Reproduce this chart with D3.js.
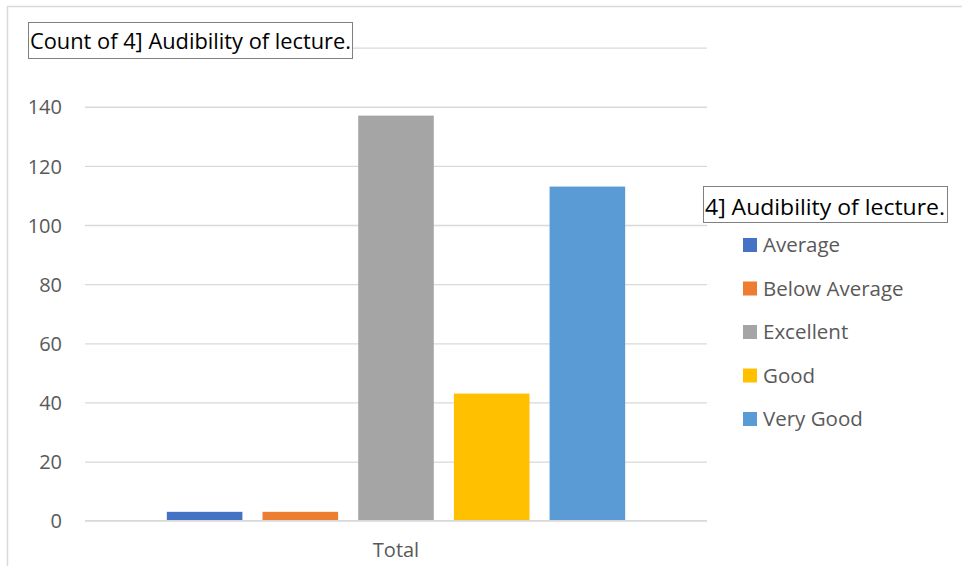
<!DOCTYPE html>
<html>
<head>
<meta charset="utf-8">
<script src="https://cdn.jsdelivr.net/npm/d3@7/dist/d3.min.js"></script>
<style>
  html, body { margin: 0; padding: 0; background: #fff; }
  svg { display: block; font-family: "Open Sans", sans-serif; }
</style>
</head>
<body>
<svg id="chart" width="962" height="566"></svg>
<script>
const categories = ["Total"];
const seriesNames = ["Average", "Below Average", "Excellent", "Good", "Very Good"];
const seriesValues = [3, 3, 137, 43, 113];
const seriesColors = ["#4472C4", "#ED7D31", "#A5A5A5", "#FFC000", "#5B9BD5"];
const yTicks = [0, 20, 40, 60, 80, 100, 120, 140, 160];
const chartTitle = "Count of 4] Audibility of lecture.";
const legendTitle = "4] Audibility of lecture.";

const svg = d3.select("#chart");

// outer chart border
svg.append("rect")
  .attr("x", 7.5).attr("y", 6.5)
  .attr("width", 1000).attr("height", 600)
  .attr("fill", "none").attr("stroke", "#d9d9d9").attr("stroke-width", 1.5);

const plot = { left: 85, right: 707, top: 47.6, bottom: 520.7 };

const y = d3.scaleLinear().domain([0, 160]).range([plot.bottom, plot.top]);
const x0 = d3.scaleBand().domain(categories).range([plot.left, plot.right])
  .paddingInner(0).paddingOuter(0.15);
const x1 = d3.scaleBand().domain(seriesNames).range([0, x0.bandwidth()])
  .paddingInner(0.21).paddingOuter(0.105);
const color = d3.scaleOrdinal().domain(seriesNames).range(seriesColors);

// gridlines (the top tick label sits hidden behind the title box, as in the reference)
const yAxis = d3.axisLeft(y).tickValues(yTicks).tickSize(-(plot.right - plot.left)).tickPadding(23)
  .tickFormat(d => d === 160 ? "" : d3.format("d")(d));
const gy = svg.append("g").attr("transform", `translate(${plot.left},0)`).call(yAxis);
gy.select(".domain").remove();
gy.selectAll(".tick line").attr("stroke", "#d9d9d9").attr("stroke-width", 1.3);
gy.selectAll(".tick text").attr("fill", "#595959").attr("font-size", 20)
  .attr("font-family", "'Open Sans', sans-serif").attr("dy", "0.36em");

// bars
const data = seriesNames.map((s, i) => ({ cat: categories[0], series: s, value: seriesValues[i] }));
svg.append("g").selectAll("rect").data(data).join("rect")
  .attr("x", d => x0(d.cat) + x1(d.series))
  .attr("width", x1.bandwidth())
  .attr("y", d => y(d.value))
  .attr("height", d => y(0) - y(d.value))
  .attr("fill", d => color(d.series));

// zero line on top
svg.append("line")
  .attr("x1", plot.left).attr("x2", plot.right)
  .attr("y1", y(0)).attr("y2", y(0))
  .attr("stroke", "#d9d9d9").attr("stroke-width", 1.3);

// x axis label
const xAxis = d3.axisBottom(x0).tickSize(0).tickPadding(22);
const gx = svg.append("g").attr("transform", `translate(0,${plot.bottom})`).call(xAxis);
gx.select(".domain").remove();
gx.selectAll(".tick text").attr("fill", "#595959").attr("font-size", 20)
  .attr("font-family", "'Open Sans', sans-serif");

// title box
const tg = svg.append("g");
tg.append("rect").attr("x", 28.5).attr("y", 22.5).attr("width", 324).attr("height", 36)
  .attr("fill", "#fff").attr("stroke", "#808080").attr("stroke-width", 1);
tg.append("text").attr("x", 30).attr("y", 48.5).attr("font-size", 21.5)
  .attr("fill", "#000").attr("textLength", 321).attr("lengthAdjust", "spacingAndGlyphs")
  .text(chartTitle);

// legend
const lg = svg.append("g");
lg.append("rect").attr("x", 703.5).attr("y", 186.5).attr("width", 244).attr("height", 36)
  .attr("fill", "#fff").attr("stroke", "#808080").attr("stroke-width", 1);
lg.append("text").attr("x", 705).attr("y", 214.5).attr("font-size", 22).attr("fill", "#000")
  .attr("textLength", 240).attr("lengthAdjust", "spacingAndGlyphs")
  .text(legendTitle);

const items = lg.selectAll("g.item").data(seriesNames).join("g").attr("class", "item")
  .attr("transform", (d, i) => `translate(743,${245 + i * 43.5})`);
items.append("rect").attr("x", 0).attr("y", -7).attr("width", 14).attr("height", 14)
  .attr("fill", d => color(d));
items.append("text").attr("x", 20).attr("y", 0).attr("dy", "0.36em")
  .attr("font-size", 20.5).attr("fill", "#595959").text(d => d);
</script>
</body>
</html>
